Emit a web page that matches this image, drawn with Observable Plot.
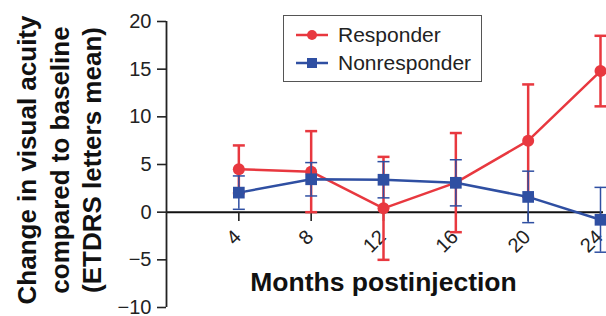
<!DOCTYPE html>
<html>
<head>
<meta charset="utf-8">
<script src="https://cdn.jsdelivr.net/npm/d3@7"></script>
<script src="https://cdn.jsdelivr.net/npm/@observablehq/plot@0.6"></script>
<style>
  html, body { margin: 0; padding: 0; background: #fff; }
  #wrap { position: relative; width: 606px; height: 316px; font-family: "Liberation Sans", Arial, Helvetica, sans-serif; }
  #legend { position: absolute; left: 283px; top: 15px; width: 197px; height: 65px; border: 1.5px solid #555; background: #fff; }
</style>
</head>
<body>
<div id="wrap">
  <div id="chart"></div>
  <div id="legend"></div>
</div>
<script>
// ---- data ----
const months = [4, 8, 12, 16, 20, 24];
const responderMean = [4.5, 4.25, 0.4, 3.1, 7.5, 14.8];
const responderErr = [2.5, 4.25, 5.4, 5.2, 5.9, 3.7];
const nonresponderMean = [2.05, 3.45, 3.4, 3.08, 1.6, -0.8];
const nonresponderErr = [1.75, 1.75, 1.9, 2.42, 2.7, 3.4];
const yTicks = [-10, -5, 0, 5, 10, 15, 20];
const xTicks = [4, 8, 12, 16, 20, 24];
const seriesNames = ["Responder", "Nonresponder"];
const seriesColors = ["#e8383f", "#2f4fa2"];
const xLabel = "Months postinjection";
const yLabel = "Change in visual acuity\ncompared to baseline\n(ETDRS letters mean)";

const responder = months.map((m, i) => ({month: m, mean: responderMean[i], lo: responderMean[i] - responderErr[i], hi: responderMean[i] + responderErr[i]}));
const nonresponder = months.map((m, i) => ({month: m, mean: nonresponderMean[i], lo: nonresponderMean[i] - nonresponderErr[i], hi: nonresponderMean[i] + nonresponderErr[i]}));

// horizontal cap symbol for error bars
const capSymbol = {
  draw(context, size) {
    const w = Math.sqrt(size / Math.PI);
    context.moveTo(-w, 0);
    context.lineTo(w, 0);
  }
};

function seriesMarks(data, color, symbol, r, errWidth) {
  return [
    Plot.ruleX(data, {x: "month", y1: "lo", y2: "hi", stroke: color, strokeWidth: errWidth}),
    Plot.dot(data, {x: "month", y: "hi", symbol: capSymbol, r: 6, stroke: color, strokeWidth: errWidth, fill: "none"}),
    Plot.dot(data, {x: "month", y: "lo", symbol: capSymbol, r: 6, stroke: color, strokeWidth: errWidth, fill: "none"}),
    Plot.line(data, {x: "month", y: "mean", stroke: color, strokeWidth: 2.5}),
    Plot.dot(data, {x: "month", y: "mean", symbol, r, fill: color, stroke: "none"})
  ];
}

const chart = Plot.plot({
  width: 606,
  height: 316,
  marginLeft: 166,
  marginRight: 6,
  marginTop: 21,
  marginBottom: 104,
  style: {fontFamily: '"Liberation Sans", Arial, Helvetica, sans-serif', background: "#fff", overflow: "visible"},
  x: {domain: [0, 24]},
  y: {domain: [d3.min(yTicks), d3.max(yTicks)], range: [307, 21]},
  marks: [
    Plot.ruleY([0], {stroke: "#111", strokeWidth: 2, insetRight: -3}),
    Plot.ruleX([0], {y1: d3.min(yTicks), y2: d3.max(yTicks), stroke: "#222", strokeWidth: 1.8}),
    Plot.axisY({ticks: yTicks, tickSize: 9, tickPadding: 6, fontSize: 20, stroke: "#222", strokeWidth: 1.6, color: "#222", label: null, tickFormat: d => d < 0 ? "\u2212" + Math.abs(d) : String(d)}),
    Plot.axisX({ticks: xTicks, tickSize: 9, stroke: "#222", strokeWidth: 1.6, label: null, tickFormat: () => ""}),
    Plot.text(xTicks, {x: d => d, frameAnchor: "bottom", text: d => String(d), rotate: -45, textAnchor: "end", lineAnchor: "middle", dx: -1, dy: 21, fontSize: 20, fill: "#222"}),
    ...seriesMarks(responder, seriesColors[0], "circle", 6, 2.5),
    ...seriesMarks(nonresponder, seriesColors[1], "square", 6.6, 1.5),
    Plot.text([xLabel], {frameAnchor: "bottom", dy: 78, fontSize: 26.5, fontWeight: "bold", fill: "#111"}),
    Plot.text([yLabel], {frameAnchor: "left", dx: -108, dy: 43, rotate: -90, fontSize: 26, fontWeight: "bold", fill: "#111", lineHeight: 1.25, textAnchor: "middle", lineAnchor: "middle"})
  ]
});
document.getElementById("chart").appendChild(chart);

// ---- legend ----
const legendSvg = d3.select("#legend").append("svg").attr("width", 197).attr("height", 65);
const symbols = [d3.symbolCircle, d3.symbolSquare];
const symSizes = [Math.PI * 25, 100];
seriesNames.forEach((name, i) => {
  const g = legendSvg.append("g").attr("transform", `translate(0, ${19 + i * 28})`);
  g.append("line").attr("x1", 12).attr("x2", 44).attr("y1", 0).attr("y2", 0).attr("stroke", seriesColors[i]).attr("stroke-width", 2.5);
  g.append("path").attr("transform", "translate(28,0)").attr("d", d3.symbol(symbols[i], symSizes[i])()).attr("fill", seriesColors[i]);
  g.append("text").attr("x", 54).attr("y", 0).attr("dy", "0.35em").attr("font-size", 21).attr("fill", "#222").text(name);
});
</script>
</body>
</html>
